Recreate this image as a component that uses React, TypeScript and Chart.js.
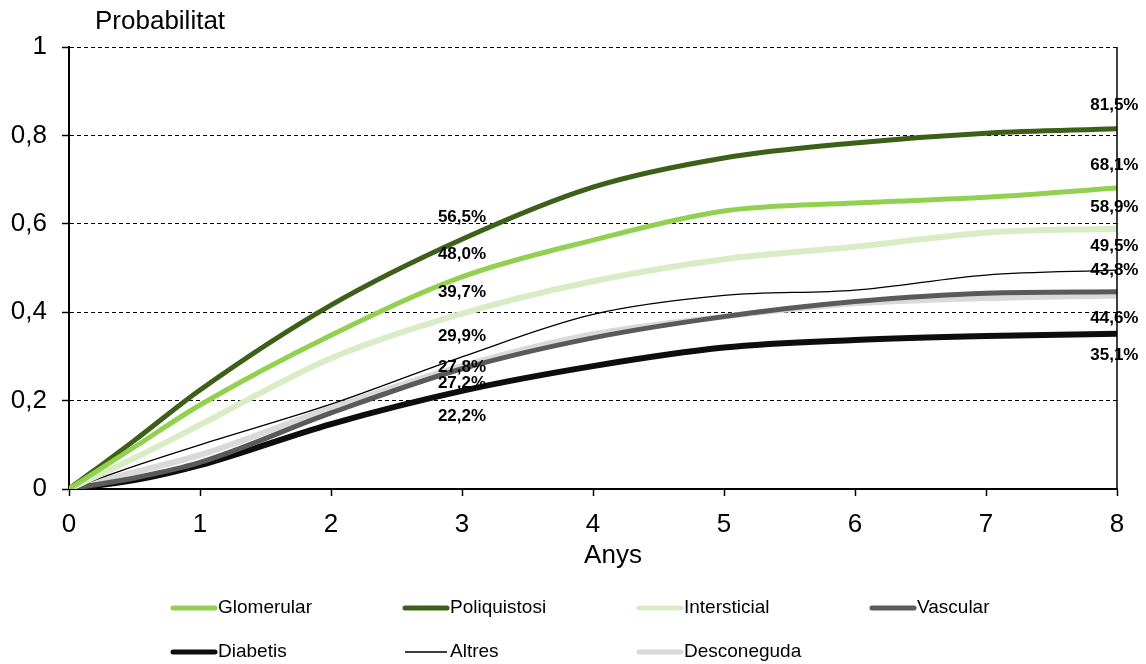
import React, { useEffect, useRef } from 'react';
import { Chart, registerables } from 'chart.js';

Chart.register(...registerables);

const FONT = "'Liberation Sans', Arial, Helvetica, sans-serif";

// Years (x axis)
const years = [0, 0.5, 1, 2, 3, 4, 5, 6, 7, 8];

// Series values (probability)
const glomerular = [0, 0.095, 0.19, 0.348, 0.48, 0.563, 0.629, 0.647, 0.66, 0.681];
const poliquistosi = [0, 0.11, 0.224, 0.416, 0.565, 0.683, 0.749, 0.783, 0.805, 0.815];
const intersticial = [0, 0.07, 0.145, 0.296, 0.397, 0.47, 0.52, 0.548, 0.58, 0.589];
const vascular = [0, 0.025, 0.06, 0.172, 0.272, 0.342, 0.39, 0.424, 0.443, 0.446];
const diabetis = [0, 0.02, 0.054, 0.147, 0.222, 0.278, 0.32, 0.337, 0.346, 0.351];
const altres = [0, 0.052, 0.1, 0.192, 0.299, 0.395, 0.438, 0.45, 0.484, 0.495];
const desconeguda = [0, 0.038, 0.077, 0.183, 0.278, 0.35, 0.39, 0.42, 0.432, 0.438];

const seriesNames = ['Glomerular', 'Poliquistosi', 'Intersticial', 'Vascular', 'Diabetis', 'Altres', 'Desconeguda'];
const seriesValues = [glomerular, poliquistosi, intersticial, vascular, diabetis, altres, desconeguda];
const seriesColors = ['#92D050', '#3D6019', '#D8EDC6', '#5A5A5A', '#0D0D0D', '#000000', '#D9D9D9'];
const seriesWidths = [5, 5, 6, 5, 6, 1.3, 6];

// Value annotations (text, anchor year, anchor value)
const labelTexts = ['56,5%', '48,0%', '39,7%', '29,9%', '27,8%', '27,2%', '22,2%',
  '81,5%', '68,1%', '58,9%', '49,5%', '43,8%', '44,6%', '35,1%'];
const labelYears = [3, 3, 3, 3, 3, 3, 3, 7.98, 7.98, 7.98, 7.98, 7.98, 7.98, 7.98];
const labelValues = [0.615, 0.532, 0.446, 0.346, 0.276, 0.24, 0.165,
  0.867, 0.733, 0.638, 0.548, 0.495, 0.387, 0.303];

const yTitle = 'Probabilitat';
const xTitle = 'Anys';

const fmt = (v: number) => {
  const r = Math.round(v * 10) / 10;
  return String(r).replace('.', ',');
};

const extrasPlugin = {
  id: 'extras',
  afterDatasetsDraw(chart: any) {
    const { ctx, chartArea, scales } = chart;
    ctx.save();
    // right border
    ctx.strokeStyle = '#000';
    ctx.lineWidth = 1.5;
    ctx.beginPath();
    ctx.moveTo(chartArea.right, chartArea.top);
    ctx.lineTo(chartArea.right, chartArea.bottom);
    ctx.stroke();
    // value labels
    ctx.fillStyle = '#000';
    ctx.font = `bold 17px ${FONT}`;
    ctx.textAlign = 'center';
    ctx.textBaseline = 'middle';
    labelTexts.forEach((t, i) => {
      const x = scales.x.getPixelForValue(labelYears[i]);
      const y = scales.y.getPixelForValue(labelValues[i]);
      ctx.fillText(t, x, y);
    });
    ctx.restore();
  },
  afterDraw(chart: any) {
    const { ctx, chartArea } = chart;
    ctx.save();
    ctx.fillStyle = '#000';
    ctx.font = `26px ${FONT}`;
    ctx.textAlign = 'left';
    ctx.textBaseline = 'middle';
    ctx.fillText(yTitle, chartArea.left + 26, 22);
    ctx.textAlign = 'center';
    ctx.fillText(xTitle, (chartArea.left + chartArea.right) / 2 + 20, chartArea.bottom + 67);
    // legend
    const colX = [171, 403, 637, 870];
    const rowY = [608, 652];
    ctx.textAlign = 'left';
    ctx.font = `19px ${FONT}`;
    seriesNames.forEach((name, i) => {
      const col = i % 4;
      const row = Math.floor(i / 4);
      const x = colX[col];
      const y = rowY[row];
      ctx.strokeStyle = seriesColors[i];
      ctx.lineWidth = seriesWidths[i] >= 2 ? 5 : 1.3;
      ctx.lineCap = seriesWidths[i] >= 2 ? 'round' : 'butt';
      ctx.beginPath();
      ctx.moveTo(x + 2, y);
      ctx.lineTo(x + 44, y);
      ctx.stroke();
      ctx.fillStyle = '#000';
      ctx.fillText(name, x + 47, y);
    });
    ctx.restore();
  },
};

export default function App() {
  const ref = useRef<HTMLCanvasElement>(null);
  useEffect(() => {
    if (!ref.current) return;
    const datasets = seriesNames.map((name, i) => ({
      label: name,
      data: years.map((x, j) => ({ x, y: seriesValues[i][j] })),
      borderColor: seriesColors[i],
      backgroundColor: seriesColors[i],
      borderWidth: seriesWidths[i],
      pointRadius: 0,
      cubicInterpolationMode: 'monotone' as const,
      fill: false,
    }));
    const chart = new Chart(ref.current, {
      type: 'line',
      data: { datasets },
      options: {
        responsive: false,
        animation: false,
        layout: { padding: { left: 0, top: 47, right: 29, bottom: 97 } },
        plugins: { legend: { display: false }, tooltip: { enabled: false }, title: { display: false } },
        scales: {
          x: {
            type: 'linear',
            min: 0,
            max: 8,
            ticks: { stepSize: 1, color: '#000', font: { family: FONT, size: 26 }, padding: 13, callback: (v: any) => fmt(Number(v)) },
            grid: { drawOnChartArea: false, drawTicks: true, tickLength: 7, tickColor: '#000', tickWidth: 1.5 },
            border: { color: '#000', width: 2 },
            title: { display: false },
            afterFit: (s: any) => { s.height = 78; },
          },
          y: {
            type: 'linear',
            min: 0,
            max: 1,
            ticks: { stepSize: 0.2, color: '#000', font: { family: FONT, size: 26 }, padding: 15, callback: (v: any) => fmt(Number(v)) },
            grid: { color: '#000', lineWidth: 1, drawTicks: true, tickLength: 7, tickColor: '#000', tickWidth: 1.5, tickBorderDash: [] },
            border: { color: '#000', width: 2, dash: [4, 3] },
            afterFit: (s: any) => { s.width = 69; },
          },
        },
      },
      plugins: [extrasPlugin],
    });
    return () => chart.destroy();
  }, []);
  return (
    <div style={{ position: 'fixed', left: 0, top: 0, width: 1146, height: 664, background: '#fff' }}>
      <canvas ref={ref} width={1146} height={664} style={{ display: 'block' }} />
    </div>
  );
}
